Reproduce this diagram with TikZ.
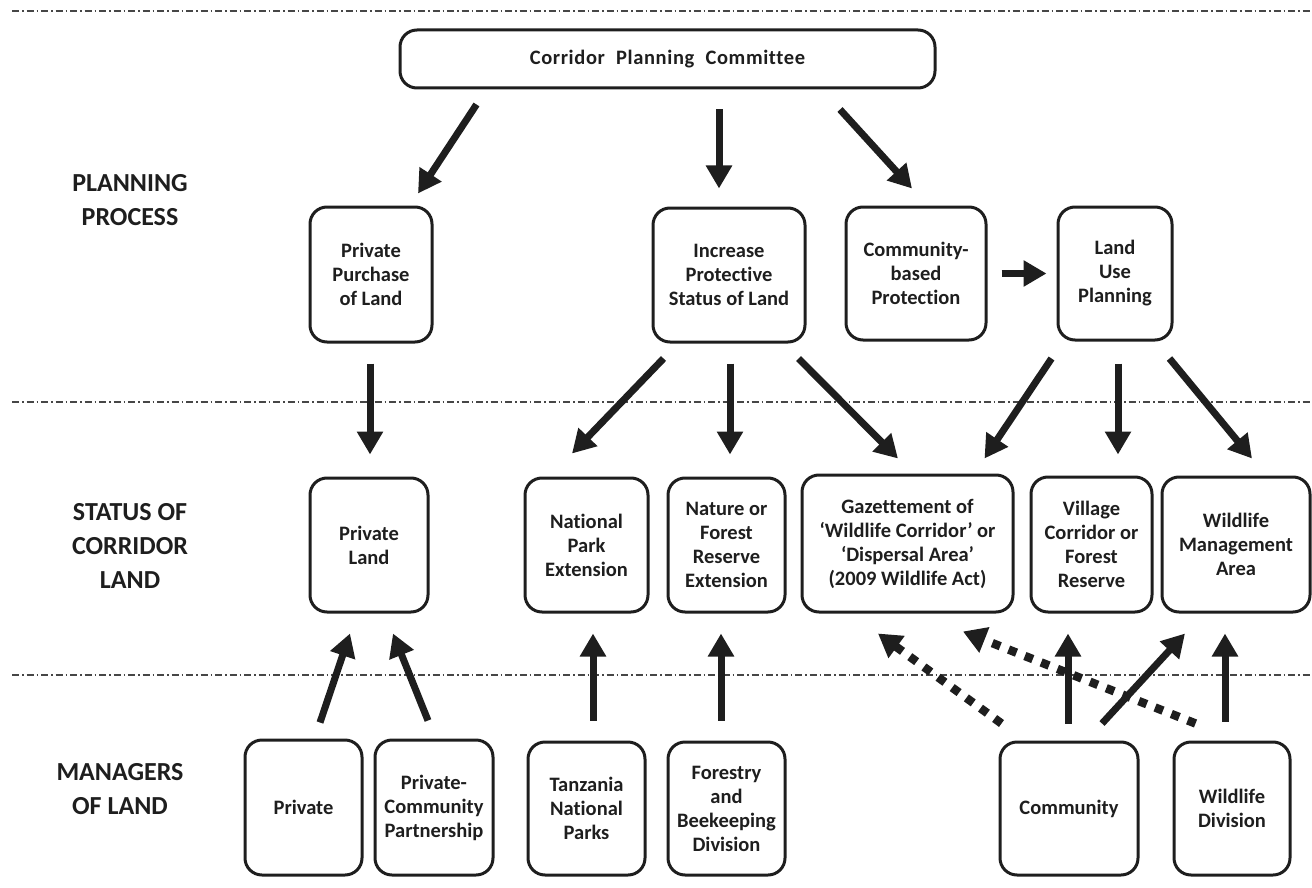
\documentclass[tikz,border=0pt]{standalone}
\usepackage{fontspec}
\setmainfont{Carlito}[Ligatures=NoCommon]
\usetikzlibrary{arrows.meta,calc}
\definecolor{ink}{RGB}{30,30,30}
\definecolor{sep}{RGB}{70,70,70}
\tikzset{
  box/.style={draw=ink, line width=3pt, rounded corners=17pt, align=center, inner sep=0pt,
    text=ink, font=\fontsize{20.5}{24}\selectfont\bfseries},
  lbl/.style={align=center, text=ink, inner sep=0pt, font=\fontsize{26}{34}\selectfont\bfseries},
  sepline/.style={draw=sep, line width=1.4pt, dash pattern=on 7pt off 3pt on 1.5pt off 3pt},
  arr/.style={draw=ink, line width=7pt, -{Triangle[length=23pt,width=25pt]}},
  dotarr/.style={draw=ink, line width=8.5pt, dash pattern=on 8.5pt off 9pt, -{Triangle[length=23pt,width=26pt]}}
}
\begin{document}
\begin{tikzpicture}[x=1pt,y=-1pt]
\useasboundingbox (0,0) rectangle (1312,888);
% separators
\coordinate (s1a) at (12,11);  \coordinate (s1b) at (1312,11);
\coordinate (s2a) at (12,402); \coordinate (s2b) at (1312,402);
\coordinate (s3a) at (12,675); \coordinate (s3b) at (1312,675);
\draw[sepline] (s1a) -- (s1b);
\draw[sepline] (s2a) -- (s2b);
\draw[sepline] (s3a) -- (s3b);
% row labels
\node[lbl] (l1) at (130,200) {PLANNING\\PROCESS};
\node[lbl] (l2) at (130,546) {STATUS OF\\CORRIDOR\\LAND};
\node[lbl] (l3) at (120,789) {MANAGERS\\OF LAND};
% top
\node[box, minimum width=535pt, minimum height=58pt, font=\fontsize{20.5}{24}\selectfont\bfseries] (cpc) at (667.5,59) {\addfontfeature{LetterSpace=3}Corridor\hspace{6pt} Planning\hspace{6pt} Committee};
% planning process
\node[box, minimum width=122pt, minimum height=135pt] (ppl) at (371,274.5) {Private\\Purchase\\of Land};
\node[box, minimum width=152pt, minimum height=134pt] (ips) at (729,275) {Increase\\Protective\\Status of Land};
\node[box, minimum width=140pt, minimum height=133pt] (cbp) at (916,273.5) {Community-\\based\\Protection};
\node[box, minimum width=114pt, minimum height=133pt] (lup) at (1115,273.5) {Land\\Use\\Planning};
% status
\node[box, minimum width=118pt, minimum height=134pt] (pl) at (369,545) {Private\\Land};
\node[box, minimum width=123pt, minimum height=134pt] (npe) at (586.5,545) {National\\Park\\Extension};
\node[box, minimum width=117pt, minimum height=134pt] (nfr) at (726.5,545) {Nature or\\Forest\\Reserve\\Extension};
\node[box, minimum width=211pt, minimum height=137pt] (gaz) at (907.5,543.5) {Gazettement of\\`Wildlife Corridor' or\\`Dispersal Area'\\(2009 Wildlife Act)};
\node[box, minimum width=121pt, minimum height=135pt] (vcf) at (1091.5,544.5) {Village\\Corridor or\\Forest\\Reserve};
\node[box, minimum width=148pt, minimum height=135pt] (wma) at (1236,544.5) {Wildlife\\Management\\Area};
% managers
\node[box, minimum width=117pt, minimum height=135pt] (prv) at (303.5,807.5) {Private};
\node[box, minimum width=118pt, minimum height=135pt] (pcp) at (434,807.5) {Private-\\Community\\Partnership};
\node[box, minimum width=117pt, minimum height=133pt] (tnp) at (586.5,808.5) {Tanzania\\National\\Parks};
\node[box, minimum width=117pt, minimum height=133pt] (fbd) at (726.5,808.5) {Forestry\\and\\Beekeeping\\Division};
\node[box, minimum width=138pt, minimum height=133pt] (com) at (1069,808.5) {Community};
\node[box, minimum width=116pt, minimum height=133pt] (wld) at (1232,808.5) {Wildlife\\Division};
% arrows: planning
\draw[arr] ($(cpc.south west)+(78,15)$) -- ($(ppl.north)+(47,-12)$);
\draw[arr] ($(cpc.south)+(51.5,20)$) -- ($(ips.north)+(-10,-18)$);
\draw[arr] ($(cpc.south)+(172.5,20)$) -- ($(cbp.north)+(-4,-17)$);
\draw[arr] ($(cbp.east)+(14,0)$) -- ($(lup.west)+(-10,0)$);
% arrows: planning -> status
\draw[arr] ($(ppl.south)+(-1,20)$) -- ($(pl.north)+(1,-22)$);
\draw[arr] ($(ips.south west)+(12,15)$) -- ($(npe.north)+(-14.5,-23)$);
\draw[arr] ($(ips.south)+(1,20)$) -- ($(nfr.north)+(3.5,-22)$);
\draw[arr] ($(ips.south east)+(-8,15)$) -- ($(gaz.north)+(-9.5,-15)$);
\draw[arr] ($(lup.south west)+(-5,17)$) -- ($(gaz.north east)+(-30,-15)$);
\draw[arr] ($(lup.south)+(3,22)$) -- ($(vcf.north)+(26.5,-21)$);
\draw[arr] ($(lup.south east)+(-4,17)$) -- ($(wma.north)+(16,-17)$);
% arrows: managers -> status
\draw[arr] ($(prv.north)+(16.5,-16)$) -- ($(pl.south)+(-19,20)$);
\draw[arr] ($(pcp.north)+(-6,-18)$) -- ($(pl.south)+(24,20)$);
\draw[arr] ($(tnp.north)+(6.5,-20)$) -- ($(npe.south)+(6.5,20)$);
\draw[arr] ($(fbd.north)+(-5.5,-20)$) -- ($(nfr.south)+(-5.5,20)$);
\draw[arr] ($(com.north)+(-1,-17)$) -- ($(vcf.south)+(-23.5,20)$);
\draw[arr] ($(com.north)+(33,-17)$) -- ($(wma.south)+(-51,20)$);
\draw[arr] ($(wld.north)+(-7,-19)$) -- ($(wma.south)+(-11,20)$);
\draw[dotarr] ($(com.north west)+(3,-17)$) -- ($(gaz.south)+(-29.5,20)$);
\draw[dotarr] ($(wld.north west)+(23,-17)$) -- ($(gaz.south)+(55.5,18)$);
\end{tikzpicture}
\end{document}
